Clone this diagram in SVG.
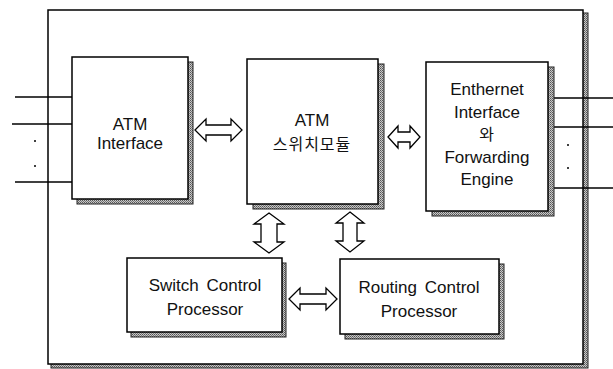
<svg xmlns="http://www.w3.org/2000/svg" width="613" height="369" viewBox="0 0 613 369">
<defs>
<pattern id="tex" width="2" height="2" patternUnits="userSpaceOnUse">
<rect width="2" height="2" fill="#c8c8c8"/>
<rect width="1" height="1" fill="#555"/>
<rect x="1" y="1" width="1" height="1" fill="#777"/>
</pattern>
</defs>
<style>
.box{fill:#fff;stroke:#000;stroke-width:1.5}
.shd{fill:url(#tex);stroke:#222;stroke-width:1}
.t{font-family:"Liberation Sans","Noto Sans CJK KR",sans-serif;font-size:17px;fill:#111;text-anchor:middle}
.k{font-family:"Noto Sans CJK KR",sans-serif;font-size:16px;letter-spacing:1px}
.ln{stroke:#000;stroke-width:1.5;fill:none}
.arr{fill:#fff;stroke:#000;stroke-width:1.3;stroke-linejoin:miter}
.dot{fill:#000}
</style>
<rect width="613" height="369" fill="#fff"/>
<g id="frame">
<rect x="51" y="13" width="537" height="355" class="shd"/>
<rect x="48" y="10" width="535" height="354" class="box"/>
</g>
<g id="io-lines">
<line x1="15" y1="97" x2="72" y2="97" class="ln"/>
<line x1="12" y1="124" x2="72" y2="124" class="ln"/>
<line x1="15" y1="182" x2="72" y2="182" class="ln"/>
<circle cx="35" cy="141" r="1" class="dot"/>
<circle cx="35" cy="166" r="1" class="dot"/>
<line x1="548" y1="98" x2="613" y2="98" class="ln"/>
<line x1="548" y1="127" x2="613" y2="127" class="ln"/>
<line x1="548" y1="188" x2="613" y2="188" class="ln"/>
<circle cx="568" cy="145" r="1" class="dot"/>
<circle cx="568" cy="168" r="1" class="dot"/>
</g>
<g id="atm-interface">
<rect x="77" y="62" width="116" height="142" class="shd"/>
<rect x="72" y="57" width="116" height="142" class="box"/>
<text x="130" y="130" class="t">ATM</text>
<text x="130" y="149" class="t">Interface</text>
</g>
<g id="atm-switch">
<rect x="253" y="64" width="131" height="145" class="shd"/>
<rect x="247" y="59" width="131" height="145" class="box"/>
<text x="312" y="126" class="t">ATM</text>
<text x="312" y="150" class="t k">스위치모듈</text>
</g>
<g id="ethernet">
<rect x="432" y="67" width="122" height="149" class="shd"/>
<rect x="426" y="62" width="122" height="149" class="box"/>
<text x="487" y="95" class="t">Enthernet</text>
<text x="487" y="118" class="t">Interface</text>
<text x="487" y="140" class="t k">와</text>
<text x="487" y="163" class="t">Forwarding</text>
<text x="487" y="185" class="t">Engine</text>
</g>
<g id="switch-control">
<rect x="131" y="263" width="155" height="74" class="shd"/>
<rect x="127" y="258" width="155" height="74" class="box"/>
<text x="205" y="291" class="t" word-spacing="3">Switch Control</text>
<text x="205" y="315" class="t">Processor</text>
</g>
<g id="routing-control">
<rect x="345" y="264" width="159" height="75" class="shd"/>
<rect x="340" y="259" width="159" height="75" class="box"/>
<text x="419" y="293" class="t" word-spacing="3">Routing Control</text>
<text x="419" y="317" class="t">Processor</text>
</g>
<g id="connectors">
<polygon class="arr" points="195,130 206,119 206,125 231,125 231,119 242,130 231,141 231,135 206,135 206,141"/>
<polygon class="arr" points="388,137 398,126 398,132 410,132 410,126 420,137 410,148 410,142 398,142 398,148"/>
<polygon class="arr" points="289,299 300,288 300,294 326,294 326,288 337,299 326,310 326,304 300,304 300,310"/>
<polygon class="arr" points="269,213 284,224 277,224 277,242 284,242 269,253 254,242 261,242 261,224 254,224"/>
<polygon class="arr" points="350,212 364,223 357,223 357,241 364,241 350,252 336,241 343,241 343,223 336,223"/>
</g>
</svg>
